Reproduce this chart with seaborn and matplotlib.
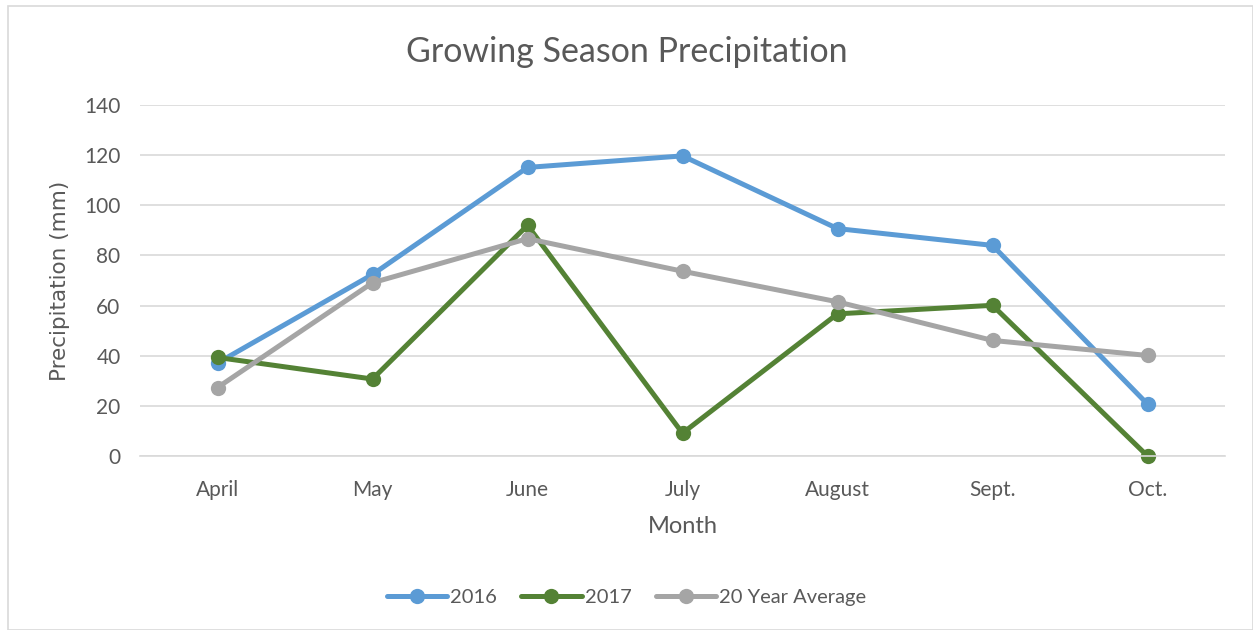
import pandas as pd
import seaborn as sns
import matplotlib.pyplot as plt
from matplotlib.patches import Rectangle

# values (mm)
months = ['April', 'May', 'June', 'July', 'August', 'Sept.', 'Oct.']
precip_2016 = [37.1, 72.4, 115.1, 119.7, 90.7, 84.0, 20.7]
precip_2017 = [39.3, 30.7, 92.0, 9.1, 56.7, 60.1, 0.0]
precip_avg = [27.3, 69.1, 86.7, 73.7, 61.5, 46.1, 40.1]
series_names = ['2016', '2017', '20 Year Average']
colors = ['#5B9BD5', '#548235', '#A5A5A5']
yticks = [0, 20, 40, 60, 80, 100, 120, 140]

df = pd.DataFrame({
    'Month': months * 3,
    'Precipitation': precip_2016 + precip_2017 + precip_avg,
    'Series': sum([[s] * len(months) for s in series_names], []),
})

sns.set_theme(style='white')
plt.rcParams['font.family'] = ['Lato', 'DejaVu Sans']
text_color = '#595959'

fig = plt.figure(figsize=(12.53, 6.30), dpi=100)
ax = fig.add_axes([140 / 1253, 1 - 456 / 630, 1085 / 1253, 351 / 630])

sns.lineplot(data=df, x='Month', y='Precipitation', hue='Series',
             palette=colors, hue_order=series_names, sort=False,
             marker='o', markersize=11, markeredgewidth=0,
             linewidth=3.6, ax=ax, legend=True, clip_on=False)

ax.set_xlim(-0.5, len(months) - 0.5)
ax.set_ylim(0, 140)
ax.set_yticks(yticks)
ax.yaxis.grid(True, color='#D9D9D9', linewidth=1.2)
ax.set_axisbelow(True)
for s in ax.spines.values():
    s.set_visible(False)
ax.spines['bottom'].set_visible(True)
ax.spines['bottom'].set_color('#D9D9D9')
ax.spines['bottom'].set_linewidth(1.2)
ax.tick_params(axis='both', length=0, labelsize=15, colors=text_color)
ax.tick_params(axis='x', pad=17)
ax.tick_params(axis='y', pad=14)

ax.set_xlabel('Month', fontsize=17, color=text_color, labelpad=12)
ax.set_ylabel('Precipitation (mm)', fontsize=15.5, color=text_color, labelpad=10,
              family=['DejaVu Sans'])
fig.text(0.5, 1 - 52 / 630, 'Growing Season Precipitation', ha='center', va='center',
         fontsize=24.5, color=text_color)

handles, labels = ax.get_legend_handles_labels()
ax.legend_.remove()
fig.legend(handles, labels, loc='center', bbox_to_anchor=(0.5, 1 - 597 / 630),
           ncol=3, frameon=False, fontsize=14.5, handlelength=3.0,
           handletextpad=0.15, columnspacing=1.2, labelcolor=text_color)

# chart area border
fig.patches.append(Rectangle((8 / 1253, 0), 1 - 8 / 1253, 1 - 6 / 630,
                             transform=fig.transFigure, fill=False,
                             edgecolor='#D9D9D9', linewidth=1.2))

fig.savefig('out.png', dpi=100)
